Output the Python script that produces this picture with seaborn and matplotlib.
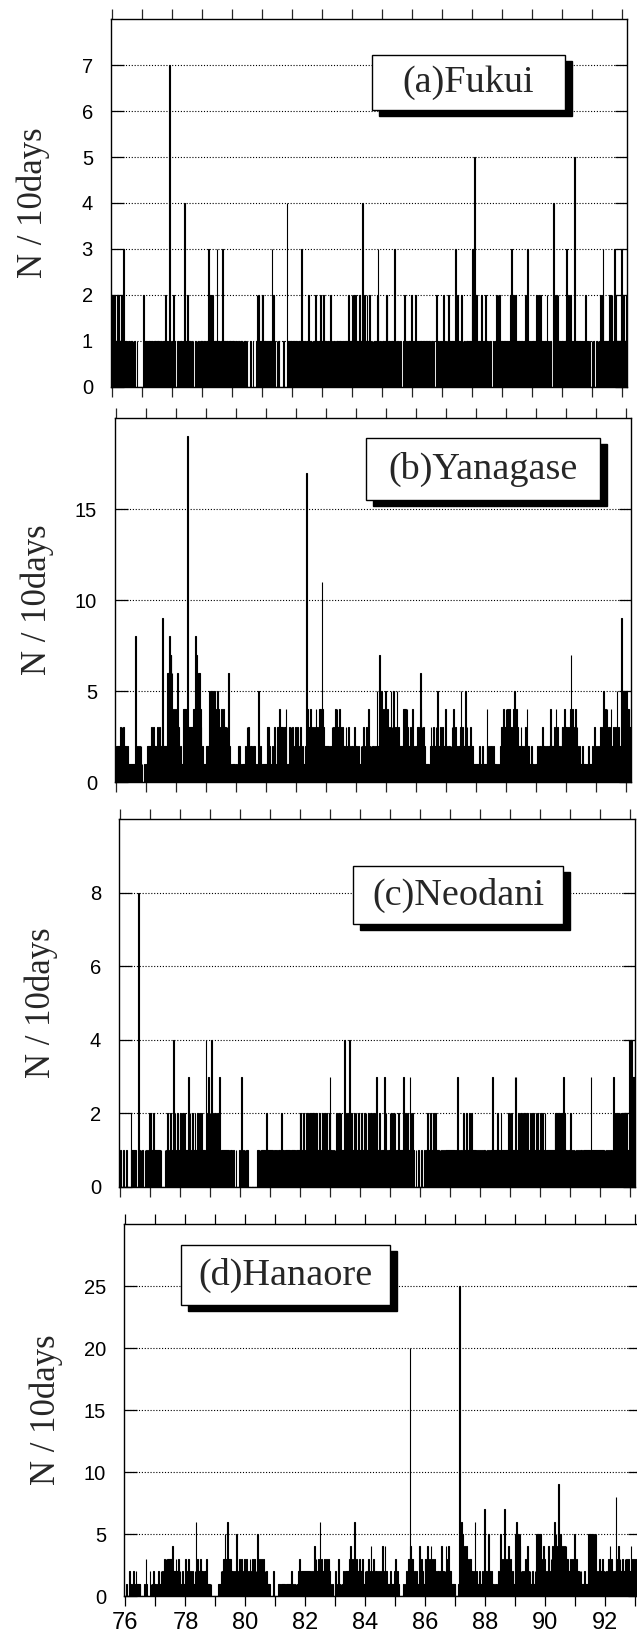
import numpy as np
import pandas as pd
import matplotlib
matplotlib.use("Agg")
import matplotlib.pyplot as plt
from matplotlib.patches import Rectangle
import seaborn as sns

# counts of events per 10-day bin, one string per year (36 bins a year)
# one character per bin, base 36 for counts above 9 (b=11, h=17, j=19, k=20, p=25)
# spaces are only there to make the strings readable
years = list(range(76, 94))
bins_per_year = 36

fukui = [
    "20201202 112113111 10101101010010 00000",
    "02 11111 11111 11111 1111 010 11121111 7 100",
    "1210 0100 1111114111211 010100101 110111",
    "1011011 3 222221 111 3 11101 3 111111111111",
    "11 101101011010110100 0100100012 121112",
    "21111111111 3 121 00101000001000 4 111111",
    "1111111111 3 1011010121 1010112101 11211",
    "121111 0102 01001010 111111111111121112",
    "1212111 1211 4 212112112 101101 112 3 10100",
    "11112211111101 3 01001010001 2 010111121",
    "1112 11111 11111 11111 11 0100100 2 0101101",
    "121 10112 1111111 3 1121112 01010 11111112",
    "3352 211111 21111210 0101001011 21212111",
    "1111111112 3 212121 1111111111 2 1 3 111010",
    "11112 212121 1111112 0101001 4 21212 11111",
    "1111 3 21212 1110 5 1111111111 112111 01001",
    "0100101012 12 3 11111112 212113 211111 131",
    "121121",
]

yanagase = [
    "2222 32323222 2211111111 8 11212 1210 0101",
    "1222 232232 2213 23222 9 2222 266 8 7763 4343",
    "3631 2 11144 444 j 33333 344 8 76566 4322 1111",
    "222 5454 54543454 323 4343 3232 6 211111101",
    "1022 11111121 3231 2121 221111 5 121111111",
    "13321 1121311 233 4 3233233 4 111313 132131",
    "1312311211 2 h 34334 2232324 332443 b 43222",
    "222122 32324 34334 32232 213223 212121321",
    "212112123 123224 2121221 22522 7 25224252",
    "3423253 2523252 322122 4443432 232342121",
    "2332 6 432321 111102 32232 232 5 22322 32242",
    "2122123 24232 21223 5 2322 5 232223 2121111",
    "111211121111 421 212212 111010 123324334",
    "34343 32345 34332 2232212 324221 12111011",
    "121221232 2122122 4322 232423 2212332433",
    "32324 7 2423423 21211121 111112111 121321",
    "12123223 524 342332 422323 252322 9 4 55454",
    "544334",
]

neodani = [
    "100100010000 211 110100 8 101010 01010121",
    "211211 11111110 00010 12102 1114 12112112",
    "21212 11113 1211211 2112121 12111 14 12312",
    "1412 1211213 1111111111 1011101 00100010",
    "030 1010110 00000000001 101111111 121111",
    "11101111011112 1101111 111111111011112",
    "211211121 212222222 1211211121 21121123",
    "110101 21212 12111 4121214 1121121 211211",
    "12112121 121211 212113 1121111 13 1210112",
    "12121 211121 11113 1121 2113 2121 00100100",
    "0100101 12112 211211 21110 101010 1111111",
    "11111111 3 101101 211121 1211211 11101010",
    "0101101010101 13 111112 1112111 11111212",
    "121113 311 2121121 2121211 2121211 212111",
    "21211211 111111111 2222222222 3 21110110",
    "210101 0101010101 111111 11 3 11111111111",
    "11110 1010101010 3 2212221222212 11211 42",
    "243333",
]

hanaore = [
    "010021 1012 11211 11100 00103100 02101211",
    "10121 1212 13232 33323 342 223223 12112111",
    "31231 2112112 6 23222 322122 13111 0100000",
    "0001 11212 33533 6 33332 21211 5 1231132131",
    "1312131 2313121 5 13123131 212111 0000200",
    "0001 1111111111111 012101 01012 3 2222222",
    "2222221212 4 232232 6 232232 23232 1001001",
    "201310 1012122 222324 2326 323223 2123112",
    "1213214 213121 2121121 421422 1112111121",
    "31210 000010 112133 k 43312 212114 2132113",
    "324232 423232 212212 242212 423422 111111",
    "0001 p 65653 433432 3232212 6 1211211 121 7 2",
    "22152 2121 101101 2125 2327 323242 3212112",
    "565545 212123 214212 11211215 55553 32432",
    "212421 32426 3534 9 435343 434332 23223252",
    "2322122 11121111 5545554555 212321 23212",
    "1213242 32122 8 324232 232232 323224 23232",
    "232322",
]

series = [fukui, yanagase, neodani, hanaore]
panel_names = ["(a)Fukui", "(b)Yanagase", "(c)Neodani", "(d)Hanaore"]
panel_ymax = [8, 20, 10, 30]
panel_yticks = [[0, 1, 2, 3, 4, 5, 6, 7], [0, 5, 10, 15], [0, 2, 4, 6, 8],
                [0, 5, 10, 15, 20, 25]]
year_labels = ["76", "78", "80", "82", "84", "86", "88", "90", "92"]


def to_frame(rows):
    t, n = [], []
    for yr, row in zip(years, rows):
        vals = [int(c, 36) for c in row if c != " "]
        for j, v in enumerate(vals):
            t.append(yr + (j + 0.5) / bins_per_year)
            n.append(v)
    return pd.DataFrame({"year": t, "count": n})


sns.set_style("ticks")
plt.rcParams["font.family"] = ["Liberation Sans", "DejaVu Sans"]

W, H = 637, 1638
fig = plt.figure(figsize=(W / 100, H / 100), dpi=100)

# axes frames in pixels: left, top, bottom (scan is slightly skewed)
frames = [(111, 19, 387), (115, 418, 782), (119, 819, 1187), (124, 1224, 1596)]
ax_w = 516
# label boxes in pixels: x0, y0, x1, y1
boxes = [(372, 55, 565, 110), (366, 438, 600, 500),
         (353, 866, 563, 924), (181, 1245, 390, 1305)]

for i, rows in enumerate(series):
    left, top, bottom = frames[i]
    ax = fig.add_axes([left / W, 1 - bottom / H, ax_w / W, (bottom - top) / H])
    df = to_frame(rows)
    sns.histplot(data=df, x="year", weights="count",
                 binwidth=1 / bins_per_year, binrange=(76, 93 + 6 / bins_per_year),
                 stat="count", color="black", edgecolor="black", linewidth=0.8,
                 alpha=1, ax=ax, zorder=3)
    ax.set_xlim(75.95, 93.15)
    ax.set_ylim(0, panel_ymax[i])
    ax.set_yticks(panel_yticks[i])
    ax.set_xlabel("")
    ax.set_ylabel("N / 10days", family="Liberation Serif", fontsize=25,
                  va="center")
    ax.yaxis.set_label_coords(-0.15, 0.5)
    ax.grid(axis="y", color="black", linestyle=(0, (1, 1.6)), linewidth=0.8)
    ax.grid(axis="x", visible=False)
    for s in ax.spines.values():
        s.set_linewidth(1.0)
        s.set_color("black")
    ax.tick_params(axis="y", direction="in", left=True, right=True,
                   length=9, width=0.9, pad=13, labelsize=14.5, colors="black")
    if i < 3:
        ax.set_xticks(years)
        ax.tick_params(axis="x", direction="out", top=True, bottom=True,
                       length=7.5, width=0.9, labelbottom=False)
    else:
        ax.set_xticks(list(range(76, 93, 2)))
        ax.set_xticklabels(year_labels)
        ax.set_xticks(list(range(77, 94, 2)), minor=True)
        ax.tick_params(axis="x", which="both", direction="out", top=True,
                       bottom=True, length=7.5, width=0.9, pad=4,
                       labelsize=17, colors="black")

    x0, y0, x1, y1 = boxes[i]
    sh = 7
    fig.add_artist(Rectangle((x0 / W + sh / W, 1 - (y1 + sh - 1) / H),
                             (x1 - x0) / W, (y1 - y0) / H,
                             transform=fig.transFigure, fc="black", ec="black",
                             zorder=10))
    fig.add_artist(Rectangle((x0 / W, 1 - y1 / H), (x1 - x0) / W, (y1 - y0) / H,
                             transform=fig.transFigure, fc="white", ec="black",
                             lw=1.0, zorder=11))
    fig.text((x0 + x1) / 2 / W, 1 - (y0 + y1) / 2 / H, panel_names[i],
             ha="center", va="center", fontsize=27.5,
             family="Liberation Serif", zorder=12)

fig.savefig("out.png", dpi=100)
